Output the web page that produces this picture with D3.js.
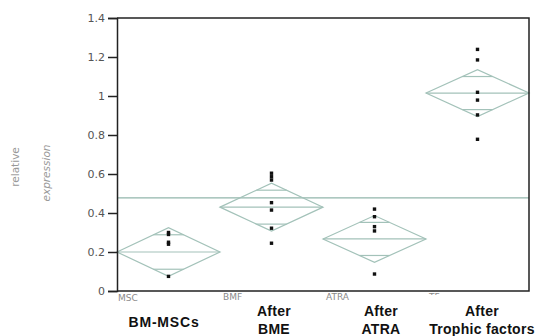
<!DOCTYPE html>
<html>
<head>
<meta charset="utf-8">
<script src="https://cdn.jsdelivr.net/npm/d3@7"></script>
<style>
  body { margin: 0; background: #fff; }
  svg { display: block; }
</style>
</head>
<body>
<div id="chart"></div>
<script>
// groups, as labelled under the plot
var groups = ["MSC", "BME", "ATRA", "TF"];
var groupNames = [["BM-MSCs"], ["After", "BME"], ["After", "ATRA"], ["After", "Trophic factors"]];

// group means and half width of the 95% diamond
var means = [0.20, 0.43, 0.267, 1.015];
var ciHalf = [0.125, 0.123, 0.12, 0.12];
var grandMean = 0.478;

// individual samples per group
var mscValues = [0.30, 0.29, 0.25, 0.24, 0.075];
var bmeValues = [0.604, 0.586, 0.569, 0.453, 0.415, 0.322, 0.245];
var atraValues = [0.42, 0.381, 0.33, 0.308, 0.087];
var tfValues = [1.239, 1.185, 1.019, 0.979, 0.903, 0.778];
var samples = [mscValues, bmeValues, atraValues, tfValues];

var yTicks = [0, 0.2, 0.4, 0.6, 0.8, 1, 1.2, 1.4];

var W = 543, H = 336;
// plot frame (window.top is reserved, so use a margin object)
var plot = {left: 117, right: 529, top: 18, bottom: 291};

var svg = d3.select("#chart").append("svg")
    .attr("width", W)
    .attr("height", H);

var x = d3.scaleBand()
    .domain(groups)
    .range([plot.left, plot.right])
    .padding(0);

var y = d3.scaleLinear()
    .domain([0, 1.4])
    .range([plot.bottom, plot.top]);

var diamondColor = "#a3c2b9";

// grand mean line
svg.append("line")
    .attr("x1", plot.left).attr("x2", plot.right)
    .attr("y1", y(grandMean)).attr("y2", y(grandMean))
    .attr("stroke", "#92b6ab")
    .attr("stroke-width", 1.3);

// mean diamonds with overlap marks
var g = svg.append("g");
groups.forEach(function (grp, i) {
    var x0 = x(grp), x1 = x(grp) + x.bandwidth(), xc = x0 + x.bandwidth() / 2;
    var m = means[i], h = ciHalf[i];
    var pts = [[x0, y(m)], [xc, y(m + h)], [x1, y(m)], [xc, y(m - h)]];
    g.append("path")
        .attr("d", d3.line()(pts) + "Z")
        .attr("fill", "none")
        .attr("stroke", diamondColor)
        .attr("stroke-width", 1.2);
    g.append("line")
        .attr("x1", x0).attr("x2", x1)
        .attr("y1", y(m)).attr("y2", y(m))
        .attr("stroke", diamondColor)
        .attr("stroke-width", 1.2);
    var off = h / Math.SQRT2;
    var hw = (1 - 1 / Math.SQRT2) * x.bandwidth() / 2;
    [m + off, m - off].forEach(function (v) {
        g.append("line")
            .attr("x1", xc - hw).attr("x2", xc + hw)
            .attr("y1", y(v)).attr("y2", y(v))
            .attr("stroke", diamondColor)
            .attr("stroke-width", 1.2);
    });
    // the samples
    g.selectAll(null)
        .data(samples[i])
        .enter()
        .append("rect")
        .attr("x", xc - 1.7)
        .attr("y", function (d) { return y(d) - 1.7; })
        .attr("width", 3.4)
        .attr("height", 3.4)
        .attr("fill", "#111");
});

// frame
svg.append("path")
    .attr("d", "M" + plot.left + "," + plot.top + "H" + plot.right + "V" + plot.bottom + "H" + plot.left)
    .attr("fill", "none")
    .attr("stroke", "#222")
    .attr("stroke-width", 1.5);

// y axis
var yAxis = svg.append("g")
    .attr("transform", "translate(" + plot.left + ",0)")
    .call(d3.axisLeft(y)
        .tickValues(yTicks)
        .tickSize(9)
        .tickPadding(3)
        .tickFormat(function (d) { return String(+d.toFixed(1)); }));
yAxis.select(".domain").attr("stroke", "#222").attr("stroke-width", 1.5);
yAxis.selectAll(".tick line").attr("stroke", "#222").attr("stroke-width", 1.5);
yAxis.selectAll(".tick text")
    .attr("fill", "#555")
    .style("font-family", "DejaVu Sans")
    .style("font-size", "11px");

// y label
svg.append("text")
    .attr("transform", "translate(19,167) rotate(-90)")
    .attr("text-anchor", "middle")
    .attr("fill", "#999")
    .style("font-family", "DejaVu Sans")
    .style("font-size", "10.5px")
    .text("relative");
svg.append("text")
    .attr("transform", "translate(50,173) rotate(-90)")
    .attr("text-anchor", "middle")
    .attr("fill", "#999")
    .style("font-family", "DejaVu Sans")
    .style("font-size", "10.5px")
    .style("font-style", "italic")
    .text("expression");

// small original group labels, partly hidden under the pasted names
svg.append("clipPath").attr("id", "lblclip")
    .append("rect").attr("x", 0).attr("y", 0).attr("width", W).attr("height", 300);
svg.append("clipPath").attr("id", "lblclip2")
    .append("rect").attr("x", 0).attr("y", 0).attr("width", W).attr("height", 295);
var smallLbl = ["MSC", "BMF", "ATRA", "TF"];
smallLbl.forEach(function (t, i) {
    svg.append("text")
        .attr("x", x(groups[i]) + (i === 0 ? 1 : 3))
        .attr("y", i === 0 ? 301 : 300)
        .attr("clip-path", i === 3 ? "url(#lblclip2)" : (i === 0 ? null : "url(#lblclip)"))
        .attr("fill", "#8a8a8a")
        .style("font-family", "DejaVu Sans")
        .style("font-size", "9px")
        .text(t);
});

// bold group names
var nameX = [164, 274, 381, 482];
groupNames.forEach(function (lines, i) {
    var baseY = lines.length === 1 ? 327 : 316;
    lines.forEach(function (t, j) {
        svg.append("text")
            .attr("x", nameX[i])
            .attr("y", baseY + j * 18)
            .attr("text-anchor", "middle")
            .attr("fill", "#111")
            .style("font-family", "Liberation Sans, Arial, sans-serif")
            .style("font-weight", "bold")
            .style("font-size", "14px")
            .style("letter-spacing", lines.length === 1 ? "0.8px" : "0.3px")
            .text(t);
    });
});
</script>
</body>
</html>
